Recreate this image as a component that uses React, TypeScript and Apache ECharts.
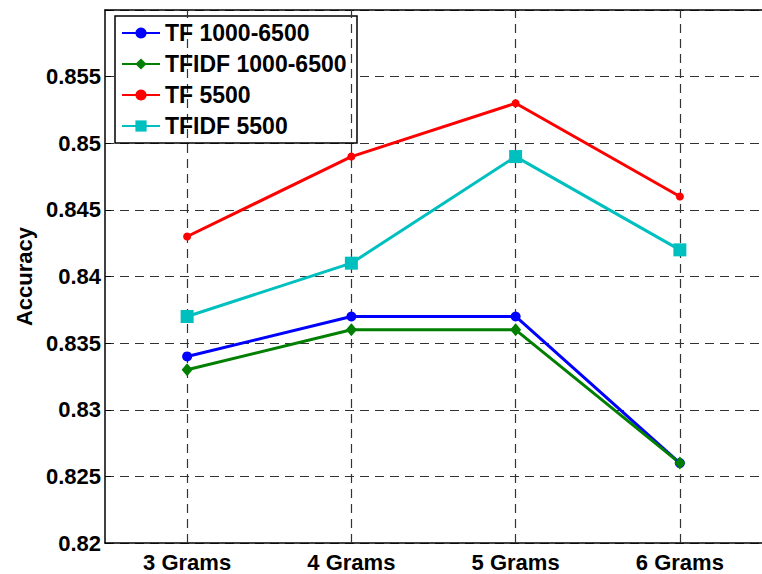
import React, { useEffect, useRef } from "react";
import * as echarts from "echarts";

const categories = ["3 Grams", "4 Grams", "5 Grams", "6 Grams"];
const tf1000_6500 = [0.834, 0.837, 0.837, 0.826];
const tfidf1000_6500 = [0.833, 0.836, 0.836, 0.826];
const tf5500 = [0.843, 0.849, 0.853, 0.846];
const tfidf5500 = [0.837, 0.841, 0.849, 0.842];
const seriesNames = ["TF 1000-6500", "TFIDF 1000-6500", "TF 5500", "TFIDF 5500"];

const FONT = "Liberation Sans, Arial, Helvetica, sans-serif";

export default function App() {
  const ref = useRef<HTMLDivElement>(null);
  useEffect(() => {
    if (!ref.current) return;
    const chart = echarts.init(ref.current, null, { renderer: "svg" });
    const gridDash = { color: "#333", width: 1.2, type: [9, 6] as number[] };
    const mkLine = (name: string, data: number[], color: string, symbol: string, size: any) => ({
      name,
      type: "line",
      data,
      z: 5,
      symbol,
      symbolSize: size,
      lineStyle: { color, width: 3 },
      itemStyle: { color, borderColor: color, borderWidth: 0 },
    });
    chart.setOption({
      animation: false,
      backgroundColor: "#fff",
      textStyle: { fontFamily: FONT },
      grid: { left: 105, top: 10, width: 662, height: 533, containLabel: false },
      xAxis: [
        {
          type: "category",
          data: categories,
          boundaryGap: true,
          position: "bottom",
          axisLine: { show: true, lineStyle: { color: "#000", width: 1.5 } },
          axisTick: { show: true, inside: true, alignWithLabel: true, length: 6, lineStyle: { color: "#000" } },
          axisLabel: { color: "#000", fontSize: 22, fontWeight: "bold", fontFamily: FONT, margin: 8 },
          splitLine: { show: false },
        },
        {
          type: "category",
          data: categories,
          boundaryGap: true,
          position: "top",
          axisLine: { show: true, lineStyle: { color: "#000", width: 1.5 } },
          axisTick: { show: true, inside: true, alignWithLabel: true, length: 6, lineStyle: { color: "#000" } },
          axisLabel: { show: false },
          splitLine: { show: false },
        },
      ],
      yAxis: {
        type: "value",
        min: 0.82,
        max: 0.86,
        interval: 0.005,
        name: "Accuracy",
        nameLocation: "middle",
        nameRotate: 90,
        nameGap: 69,
        nameTextStyle: { color: "#000", fontSize: 22, fontWeight: "bold", fontFamily: FONT },
        axisLine: { show: true, lineStyle: { color: "#000", width: 1.5 } },
        axisTick: { show: true, inside: true, length: 6, lineStyle: { color: "#000" } },
        axisLabel: {
          color: "#000",
          fontSize: 22,
          fontWeight: "bold",
          fontFamily: FONT,
          margin: 4,
          formatter: (v: number) => (v > 0.8595 ? "" : String(parseFloat(v.toFixed(3)))),
        },
        splitLine: { show: true, lineStyle: gridDash },
      },
      legend: {
        data: seriesNames,
        orient: "vertical",
        left: 121,
        top: 21,
        padding: 0,
        itemWidth: 38,
        itemHeight: 14,
        itemGap: 7,
        z: 10,
        textStyle: { color: "#000", fontSize: 23, fontWeight: "bold", fontFamily: FONT, lineHeight: 24 },
      },
      graphic: [
        {
          type: "rect",
          z: 3,
          shape: { x: 115, y: 16, width: 242, height: 127 },
          style: { fill: "#fff", stroke: "#000", lineWidth: 1.5 },
        },
      ],
      series: [
        {
          name: "grid",
          type: "line",
          data: [],
          z: 1,
          silent: true,
          markLine: {
            silent: true,
            symbol: "none",
            label: { show: false },
            lineStyle: gridDash,
            data: categories.map((c) => ({ xAxis: c })),
          },
        },
        mkLine(seriesNames[0], tf1000_6500, "#0000ff", "circle", 10),
        mkLine(seriesNames[1], tfidf1000_6500, "#007f00", "diamond", [11, 13]),
        mkLine(seriesNames[2], tf5500, "#ff0000", "circle", 8),
        mkLine(seriesNames[3], tfidf5500, "#00bfbf", "rect", 13),
      ],
    });
    return () => chart.dispose();
  }, []);
  return (
    <div
      ref={ref}
      style={{ position: "absolute", left: 0, top: 0, width: 762, height: 574, overflow: "hidden" }}
    />
  );
}
